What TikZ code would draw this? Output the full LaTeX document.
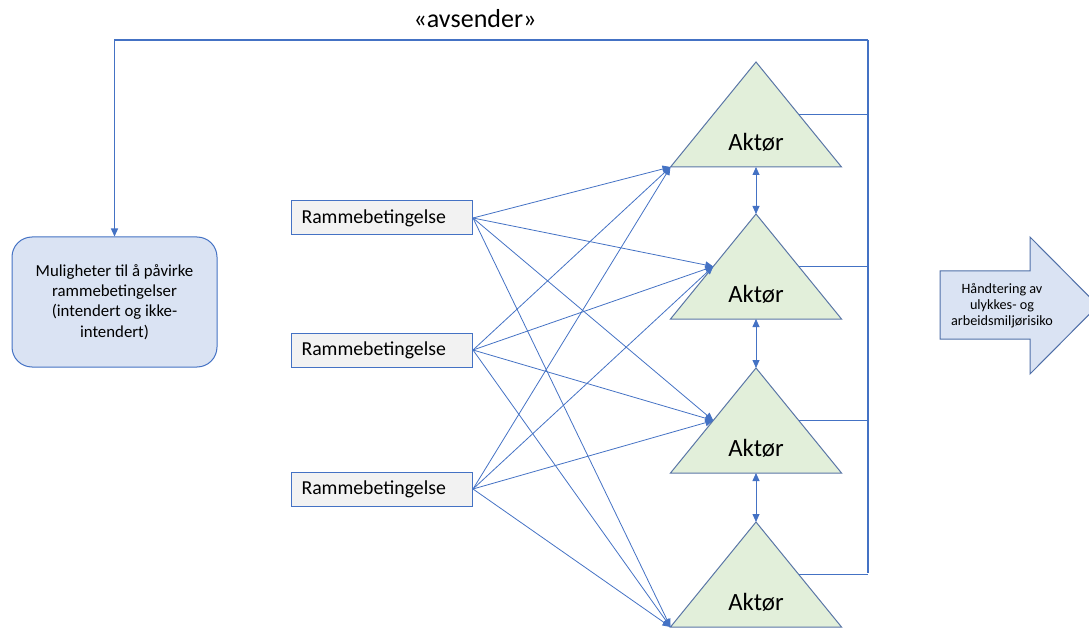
\documentclass[tikz,border=0pt]{standalone}
\usepackage{fontspec}
\setmainfont{Carlito}
\usetikzlibrary{arrows.meta,calc}

\definecolor{lineblue}{HTML}{4472C4}
\definecolor{edgeblue}{HTML}{5A76A6}
\definecolor{greenfill}{HTML}{E2EFDA}
\definecolor{bluefill}{HTML}{DAE3F3}
\definecolor{grayfill}{HTML}{F2F2F2}
\definecolor{arrowedge}{HTML}{4F6FA8}

\tikzset{
  link/.style={draw=lineblue, line width=0.8pt},
  tip/.style={-{Triangle[length=8pt,width=7pt]}},
  bothtips/.style={{Triangle[length=8pt,width=7pt]}-{Triangle[length=8pt,width=7pt]}},
  bus/.style={draw=lineblue, line width=1.3pt},
  rbox/.style={draw=lineblue, fill=grayfill, line width=1pt, rectangle,
    text width=161pt, align=left, inner xsep=10pt, minimum height=34pt,
    font=\fontsize{19.8}{24}\selectfont},
  actor/.style={draw=edgeblue, fill=greenfill, line width=1pt, line join=miter},
  actorlabel/.style={font=\fontsize{24.8}{30}\selectfont, inner sep=0pt}
}

\begin{document}
\begin{tikzpicture}[x=1pt,y=-1pt]
\useasboundingbox (0,0) rectangle (1089,628);
\clip (0,0) rectangle (1089,628);

% actor triangles: apex, lower-left and lower-right corners
\foreach \i/\y in {1/62,2/214,3/368,4/522}{
  \coordinate (t\i top) at (756,\y);
  \coordinate (t\i bl) at (670.5,\y+105);
  \coordinate (t\i br) at (841.5,\y+105);
  \coordinate (t\i bot) at (756,\y+105);
  \path[actor] (t\i top) -- (t\i br) -- (t\i bl) -- cycle;
  \coordinate (t\i left) at ($(t\i top)!0.5!(t\i bl)$);
  \coordinate (t\i right) at ($(t\i top)!0.5!(t\i br)$);
  \node[actorlabel] (a\i) at (756,\y+80) {Aktør};
}

% framework conditions
\node[rbox] (r1) at (382,218) {Rammebetingelse};
\node[rbox] (r2) at (382,350) {Rammebetingelse};
\node[rbox] (r3) at (382,489) {Rammebetingelse};

% left box
\node[draw=lineblue, fill=bluefill, line width=1pt, rounded corners=20pt,
  minimum width=205pt, minimum height=130pt, align=center,
  font=\fontsize{16.8}{20.3}\selectfont] (mul) at (114.5,302)
  {Muligheter til å påvirke\\rammebetingelser\\(intendert og ikke-\\intendert)};

% sender label
\node[font=\fontsize{26}{30}\selectfont, inner sep=0pt] (avs) at (475,19) {«avsender»};

% feedback bus on the right and back to the left box
\coordinate (bustop) at (868,40);
\coordinate (busbot) at (868,573);
\path[bus] (bustop) -- (busbot);
\draw[bus, tip] (bustop) -| (mul.north);
\foreach \i in {1,2,3,4}{
  \draw[link] (t\i right) -- (t\i right -| bustop);
}

% links between actors
\draw[link, bothtips] (t1bot) -- (t2top);
\draw[link, bothtips] (t2bot) -- (t3top);
\draw[link, bothtips] (t3bot) -- (t4top);

% links from each framework condition to each actor
\foreach \r in {r1,r2,r3}{
  \draw[link, tip] (\r.east) -- (t1bl);
  \draw[link, tip] (\r.east) -- (t2left);
  \draw[link, tip] (\r.east) -- (t3left);
  \draw[link, tip] (\r.east) -- (t4bl);
}

% outcome arrow
\path[draw=arrowedge, fill=bluefill, line width=1pt]
  (940,271) -- (1030,271) -- (1030,237) -- (1098,305.5) -- (1030,374)
  -- (1030,339) -- (940,339) -- cycle;
\node[align=center, font=\fontsize{14.2}{16}\selectfont, inner sep=0pt] (out)
  at (1002,306) {Håndtering av\\ulykkes- og\\arbeidsmiljørisiko};
\end{tikzpicture}
\end{document}
